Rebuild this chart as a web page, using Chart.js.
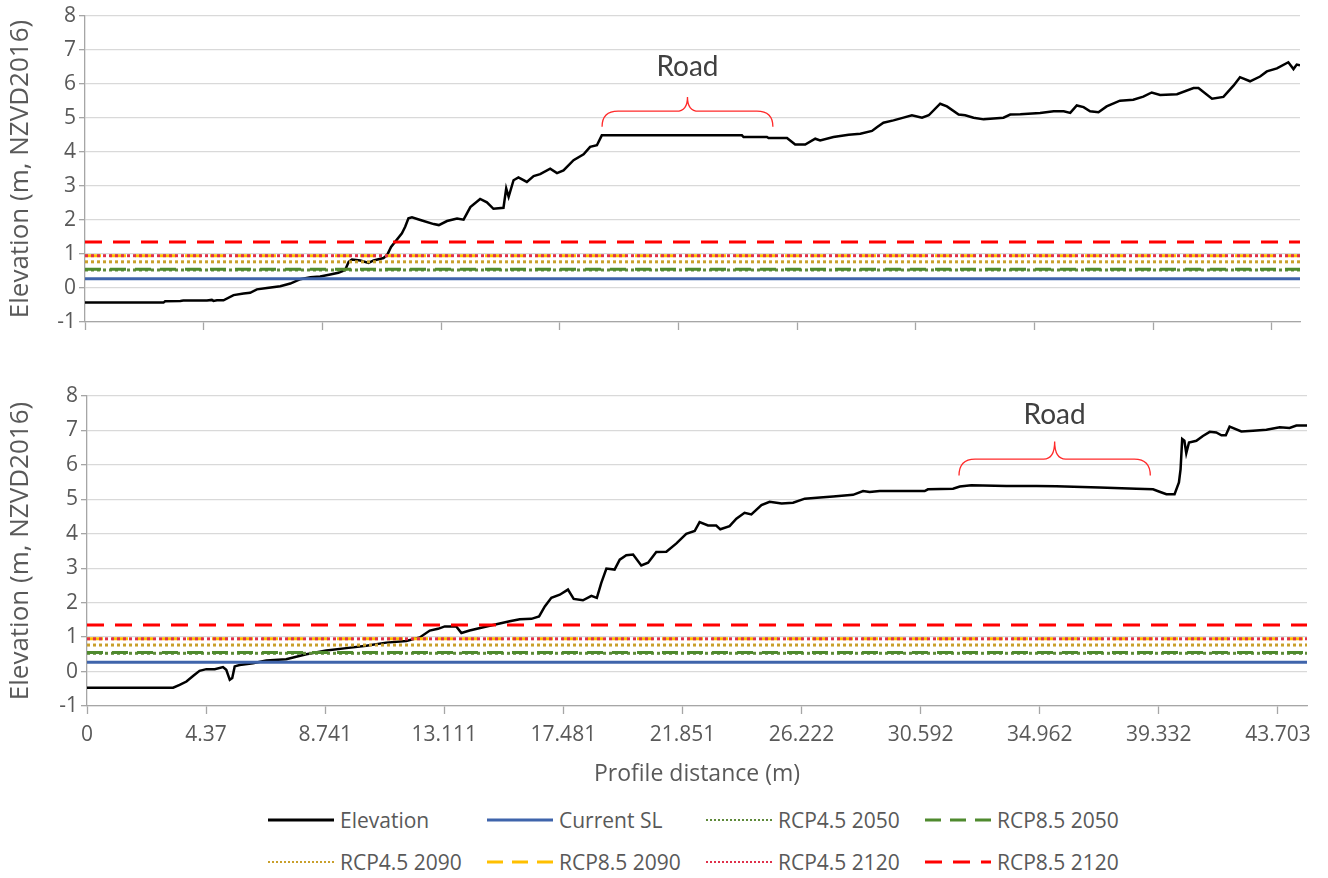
<!DOCTYPE html>
<html>
<head>
<meta charset="utf-8">
<script src="https://cdn.jsdelivr.net/npm/chart.js@4"></script>
<style>
  body { margin: 0; background: #fff; font-family: "Open Sans", sans-serif; }
  #wrap { position: relative; width: 1328px; height: 878px; }
  canvas { position: absolute; left: 0; }
  #top { top: 0; }
  #bottom { top: 380px; }
  #legend {
    position: absolute; left: 268px; top: 799px;
    display: grid; grid-template-columns: repeat(4, 219px); row-gap: 0;
    color: #595959; font-size: 21px;
  }
  .item { display: flex; align-items: center; height: 42px; white-space: nowrap; }
  .item svg { margin-right: 6px; }
</style>
</head>
<body>
<div id="wrap">
  <canvas id="top" width="1328" height="345"></canvas>
  <canvas id="bottom" width="1328" height="410"></canvas>
  <div id="legend"></div>
</div>
<script>
// profile 1 (upper chart)
const distTop = [0, 2.89, 2.95, 3.51, 3.62, 4.49, 4.67, 4.73, 4.86, 5.10, 5.47, 5.84, 6.08, 6.33, 6.70, 7.19, 7.56, 7.93, 8.30, 8.66,
  9.03, 9.33, 9.58, 9.71, 9.83, 10.14, 10.44, 10.63, 10.99, 11.12, 11.27, 11.67, 11.79, 11.91, 12.04, 12.35, 12.84, 13.03, 13.33, 13.70,
  13.94, 14.19, 14.55, 14.80, 15.04, 15.41, 15.51, 15.60, 15.78, 15.96, 16.27, 16.52, 16.76, 17.13, 17.38, 17.62, 17.99, 18.36, 18.60, 18.85,
  19.03, 24.19, 24.25, 25.11, 25.17, 25.85, 26.15, 26.52, 26.89, 27.07, 27.56, 28.12, 28.55, 28.98, 29.16, 29.40, 29.77, 30.14, 30.45, 30.82,
  31.07, 31.49, 31.74, 32.17, 32.41, 32.72, 33.09, 33.82, 34.07, 34.44, 35.17, 35.67, 36.04, 36.28, 36.52, 36.77, 37.01, 37.32, 37.62, 38.11,
  38.60, 38.97, 39.28, 39.59, 40.21, 40.82, 41.00, 41.50, 41.92, 42.29, 42.53, 42.90, 43.27, 43.52, 43.89, 44.31, 44.50, 44.62, 44.74];
const elevTop = [-0.43, -0.43, -0.39, -0.38, -0.37, -0.37, -0.35, -0.38, -0.36, -0.36, -0.21, -0.16, -0.14, -0.04, 0.00, 0.05, 0.13, 0.26, 0.32, 0.34,
  0.40, 0.45, 0.53, 0.77, 0.84, 0.81, 0.74, 0.81, 0.88, 0.96, 1.21, 1.61, 1.80, 2.05, 2.08, 2.00, 1.88, 1.85, 1.97, 2.04,
  2.01, 2.38, 2.62, 2.52, 2.33, 2.36, 2.93, 2.68, 3.17, 3.25, 3.12, 3.29, 3.35, 3.51, 3.38, 3.46, 3.76, 3.93, 4.15, 4.20,
  4.49, 4.49, 4.44, 4.44, 4.41, 4.41, 4.22, 4.22, 4.39, 4.34, 4.44, 4.51, 4.54, 4.62, 4.73, 4.86, 4.93, 5.01, 5.08, 5.01,
  5.08, 5.42, 5.34, 5.10, 5.08, 5.01, 4.96, 5.01, 5.10, 5.11, 5.15, 5.20, 5.20, 5.15, 5.37, 5.32, 5.20, 5.17, 5.34, 5.51,
  5.54, 5.63, 5.75, 5.68, 5.70, 5.88, 5.88, 5.57, 5.62, 5.95, 6.20, 6.08, 6.22, 6.37, 6.46, 6.64, 6.44, 6.57, 6.55];

// profile 2 (lower chart)
const distBottom = [0, 3.16, 3.40, 3.65, 3.89, 4.13, 4.38, 4.69, 4.99, 5.11, 5.24, 5.33, 5.42, 5.60, 6.09, 6.58, 7.31, 8.05, 8.78, 9.52,
  10.25, 10.98, 11.72, 12.21, 12.58, 12.88, 13.13, 13.55, 13.74, 14.04, 14.78, 15.51, 15.88, 16.31, 16.59, 16.80, 17.04, 17.35, 17.65, 17.86,
  18.20, 18.51, 18.71, 18.87, 19.06, 19.36, 19.55, 19.79, 20.04, 20.34, 20.59, 20.89, 21.26, 21.63, 21.99, 22.30, 22.48, 22.79, 23.09, 23.24,
  23.58, 23.83, 24.13, 24.38, 24.75, 25.05, 25.49, 25.91, 26.34, 26.90, 27.38, 28.11, 28.48, 28.72, 29.09, 30.74, 30.86, 31.78, 32.03, 32.45,
  33.74, 34.84, 35.57, 37.16, 38.51, 39.12, 39.36, 39.61, 39.91, 40.07, 40.13, 40.19, 40.27, 40.34, 40.44, 40.71, 40.95, 41.20, 41.44, 41.63,
  41.79, 41.93, 42.36, 42.79, 43.28, 43.77, 44.13, 44.38, 44.77];
const elevBottom = [-0.47, -0.47, -0.39, -0.29, -0.13, 0.02, 0.07, 0.07, 0.13, 0.05, -0.24, -0.19, 0.15, 0.19, 0.24, 0.32, 0.36, 0.50, 0.61, 0.68,
  0.75, 0.84, 0.89, 0.99, 1.19, 1.24, 1.31, 1.31, 1.12, 1.19, 1.33, 1.46, 1.52, 1.53, 1.60, 1.89, 2.14, 2.23, 2.38, 2.11,
  2.07, 2.20, 2.14, 2.57, 2.99, 2.96, 3.25, 3.38, 3.40, 3.08, 3.16, 3.47, 3.48, 3.72, 4.00, 4.08, 4.34, 4.24, 4.24, 4.13,
  4.22, 4.44, 4.61, 4.56, 4.83, 4.93, 4.88, 4.90, 5.02, 5.05, 5.08, 5.13, 5.24, 5.21, 5.24, 5.24, 5.29, 5.31, 5.37, 5.41,
  5.39, 5.39, 5.38, 5.34, 5.31, 5.29, 5.22, 5.15, 5.15, 5.49, 5.87, 6.75, 6.70, 6.34, 6.65, 6.70, 6.84, 6.96, 6.94, 6.86,
  6.86, 7.11, 6.97, 6.99, 7.02, 7.09, 7.07, 7.14, 7.14];

const seriesNames = ["Elevation", "Current SL", "RCP4.5 2050", "RCP8.5 2050", "RCP4.5 2090", "RCP8.5 2090", "RCP4.5 2120", "RCP8.5 2120"];
// sea levels for series 2..8 (m, NZVD2016)
const seaLevels = [0.27, 0.53, 0.55, 0.77, 0.95, 0.95, 1.35];
const tickLabels = ["0", "4.37", "8.741", "13.111", "17.481", "21.851", "26.222", "30.592", "34.962", "39.332", "43.703"];

const seriesColors = ["#000000", "#3f64ab", "#5f8a3a", "#4f8a2e", "#c9a02c", "#ffc000", "#e0304a", "#ff0000"];
const seriesDashes = [[], [], [3, 3], [16, 9], [3, 3], [16, 9], [3, 3], [17, 11]];

const tickColor = "#595959";

const roadPlugin = {
  id: "road",
  afterDatasetsDraw(chart, args, o) {
    if (o.start === undefined) return;
    const xs = chart.scales.x, ys = chart.scales.y, c = chart.ctx;
    const x1 = xs.getPixelForValue(o.start), x2 = xs.getPixelForValue(o.end);
    const xc = (x1 + x2) / 2;
    const yb = ys.getPixelForValue(o.base), yh = ys.getPixelForValue(o.mid), yt = ys.getPixelForValue(o.tip);
    const r = 16, rt = 11;
    c.save();
    c.strokeStyle = "#ff2a2a";
    c.lineWidth = 1.3;
    c.beginPath();
    c.moveTo(x1, yb);
    c.quadraticCurveTo(x1, yh, x1 + r, yh);
    c.lineTo(xc - rt, yh);
    c.quadraticCurveTo(xc, yh, xc, yt);
    c.quadraticCurveTo(xc, yh, xc + rt, yh);
    c.lineTo(x2 - r, yh);
    c.quadraticCurveTo(x2, yh, x2, yb);
    c.stroke();
    c.fillStyle = "#404040";
    c.font = "28px Lato";
    c.textAlign = "center";
    c.textBaseline = "middle";
    c.fillText("Road", xc, ys.getPixelForValue(o.labelY));
    c.restore();
  }
};

function buildDatasets(dist, elev) {
  const xEnd = dist[dist.length - 1];
  const sets = [{
    label: seriesNames[0],
    data: dist.map((d, i) => ({ x: d, y: elev[i] })),
    borderColor: seriesColors[0],
    borderWidth: 2.5,
    order: 9
  }];
  seaLevels.forEach((v, i) => {
    sets.push({
      label: seriesNames[i + 1],
      data: [{ x: 0, y: v }, { x: xEnd, y: v }],
      borderColor: seriesColors[i + 1],
      borderDash: seriesDashes[i + 1],
      borderWidth: 3,
      order: 8 - i
    });
  });
  return sets;
}

function makeChart(id, dist, elev, showLabels, axisWidth, rightPad, xHeight, road) {
  const tickValues = tickLabels.map(parseFloat);
  return new Chart(document.getElementById(id), {
    type: "line",
    data: { datasets: buildDatasets(dist, elev) },
    options: {
      responsive: false,
      animation: false,
      layout: { padding: { top: 16, right: rightPad, left: 0, bottom: 0 } },
      elements: { point: { radius: 0 }, line: { tension: 0 } },
      plugins: { legend: { display: false }, tooltip: { enabled: false }, road: road },
      scales: {
        x: {
          type: "linear",
          min: 0,
          max: dist[dist.length - 1],
          afterBuildTicks: s => { s.ticks = tickValues.map(v => ({ value: v })); },
          afterFit: s => { s.height = xHeight; },
          border: { color: "#a6a6a6", width: 1.3 },
          grid: { drawOnChartArea: false, tickLength: 8, tickColor: "#a6a6a6", tickWidth: 1.3 },
          ticks: {
            display: showLabels,
            autoSkip: false,
            maxRotation: 0,
            padding: 8,
            color: tickColor,
            font: { family: "Open Sans", size: 21 },
            callback: (v, i) => tickLabels[i]
          },
          title: {
            display: showLabels,
            text: "Profile distance (m)",
            color: tickColor,
            font: { family: "Open Sans", size: 23 },
            padding: { top: 0, bottom: 2 }
          }
        },
        y: {
          min: -1,
          max: 8,
          afterFit: s => { s.width = axisWidth; },
          border: { color: "#a6a6a6", width: 1.3 },
          grid: { color: "#d9d9d9", lineWidth: 1.3, tickLength: 6, tickColor: "#a6a6a6" },
          ticks: { stepSize: 1, padding: 3, color: tickColor, font: { family: "Open Sans", size: 21 } },
          title: {
            display: true,
            text: "Elevation (m, NZVD2016)",
            color: tickColor,
            font: { family: "Open Sans", size: 26 },
            padding: { top: 5, bottom: 0 }
          }
        }
      }
    },
    plugins: [roadPlugin]
  });
}

makeChart("top", distTop, elevTop, false, 85, 28, 23,
  { start: 19.04, end: 25.33, base: 4.74, mid: 5.2, tip: 5.62, labelY: 6.5 });
makeChart("bottom", distBottom, elevBottom, true, 87, 21, 84,
  { start: 32.0, end: 39.02, base: 5.69, mid: 6.17, tip: 6.68, labelY: 7.45 });

function renderLegend() {
  const box = document.getElementById("legend");
  seriesNames.forEach((name, i) => {
    const item = document.createElement("div");
    item.className = "item";
    const dash = seriesDashes[i].length ? seriesDashes[i].map(d => d > 4 ? d : 2).join(" ") : "none";
    const w = seriesDashes[i][0] === 3 ? 2 : 3;
    item.innerHTML = `<svg width="66" height="6"><line x1="0" y1="3" x2="66" y2="3" stroke="${seriesColors[i]}" stroke-width="${w}" stroke-dasharray="${dash}"/></svg><span>${name}</span>`;
    box.appendChild(item);
  });
}

renderLegend();
</script>
</body>
</html>
